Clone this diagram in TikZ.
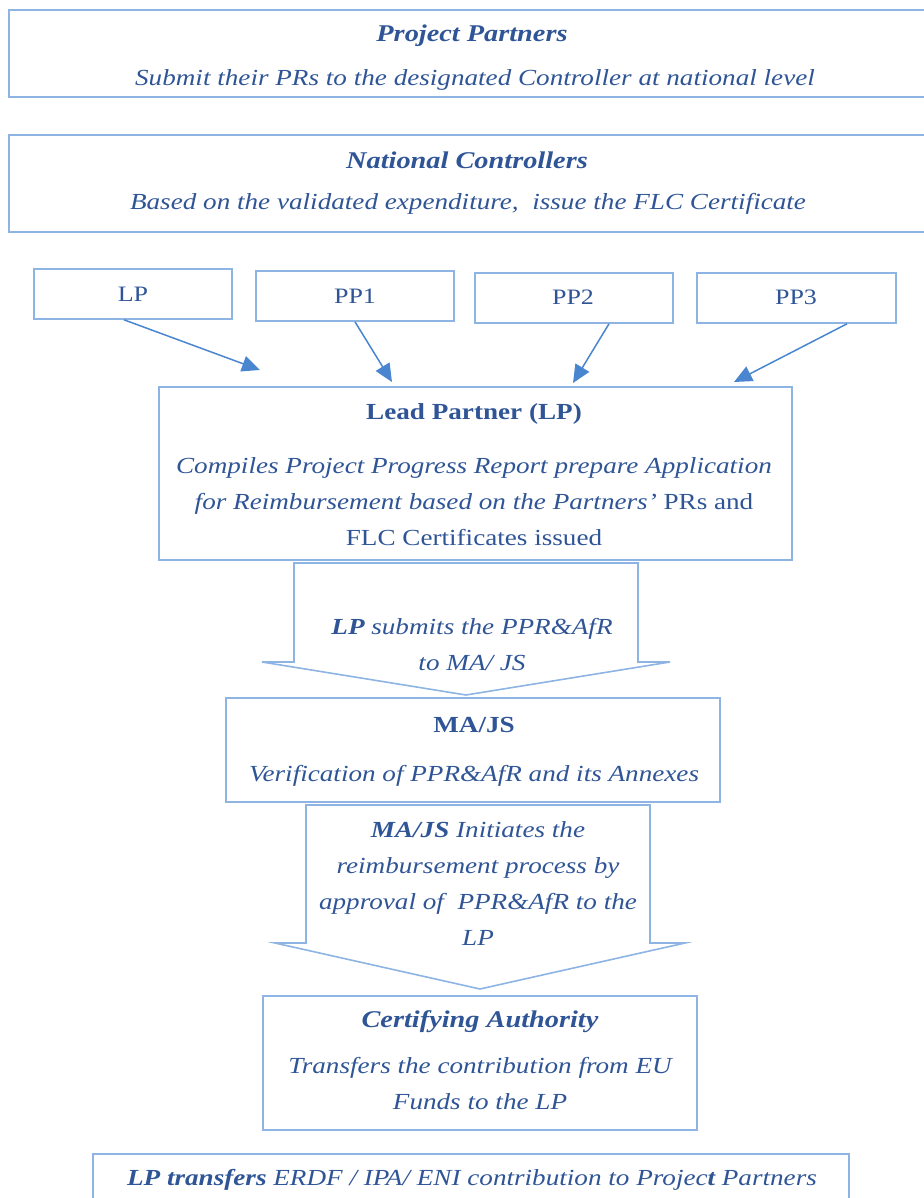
\documentclass[tikz,border=0pt]{standalone}
\usepackage{fontspec}
\setmainfont{Liberation Serif}[FakeStretch=1.18]
\usetikzlibrary{arrows.meta}
\definecolor{txt}{HTML}{2F5597}
\definecolor{bord}{HTML}{8EB4E3}
\definecolor{arr}{HTML}{4A86D0}
\tikzset{
  box/.style={draw=bord, line width=1.6pt, inner sep=0pt, fill=white},
  lbl/.style={text=txt, inner sep=0pt, align=center, font=\fontsize{23}{36}\selectfont},
  conn/.style={draw=arr, line width=1.5pt, -{Triangle[length=18pt,width=16pt]}},
  blk/.style={draw=bord, line width=1.6pt, fill=white, line join=miter}
}
\begin{document}
\begin{tikzpicture}[x=1pt,y=-1pt]
\useasboundingbox (0,0) rectangle (923,1198);
% boxes
\node[box, minimum width=931pt, minimum height=87pt] (pp) at (474.5,53.5) {};
\node[box, minimum width=931pt, minimum height=97pt] (nc) at (474.5,183.5) {};
\node[box, minimum width=198pt, minimum height=50pt] (lpb) at (133,294) {};
\node[box, minimum width=198pt, minimum height=50pt] (pp1b) at (355,296) {};
\node[box, minimum width=198pt, minimum height=50pt] (pp2b) at (574,298) {};
\node[box, minimum width=199pt, minimum height=50pt] (pp3b) at (796.5,298) {};
\node[box, minimum width=633pt, minimum height=173pt] (lead) at (475.5,473.5) {};
\node[box, minimum width=494pt, minimum height=104pt] (maj) at (473,750) {};
\node[box, minimum width=434pt, minimum height=134pt] (ca) at (480,1063) {};
\node[box, minimum width=756pt, minimum height=56pt] (bot) at (471,1182) {};
% block arrows
\draw[blk] (294,563) -- (294,662) -- (262,662) -- (466,695) -- (670,662) -- (638,662) -- (638,563) -- cycle;
\draw[blk] (306,805) -- (306,943) -- (275,943) -- (480,989) -- (685,943) -- (650,943) -- (650,805) -- cycle;
% arrow ends
\coordinate (e1) at (260,370);
\coordinate (e2) at (392,382);
\coordinate (e3) at (573,383);
\coordinate (e4) at (734,382);
\draw[conn] ([xshift=-9pt]lpb.south) -- (e1);
\draw[conn] (pp1b.south) -- (e2);
\draw[conn] ([xshift=35pt]pp2b.south) -- (e3);
\draw[conn] ([xshift=50.5pt]pp3b.south) -- (e4);
% texts
\node[lbl, font=\fontsize{24}{36}\selectfont\bfseries\itshape] (t1) at (472,36) {Project Partners};
\node[lbl, font=\fontsize{23}{36}\selectfont\itshape] (t2) at (475,80) {Submit their PRs to the designated Controller at national level};
\node[lbl, font=\fontsize{24}{36}\selectfont\bfseries\itshape] (t3) at (467,160) {National Controllers};
\node[lbl, font=\fontsize{23}{36}\selectfont\itshape] (t4) at (468,204) {Based on the validated expenditure,\ \ issue the FLC Certificate};
\node[lbl, font=\fontsize{22}{36}\selectfont] (t5) at (133,294) {LP};
\node[lbl, font=\fontsize{22}{36}\selectfont] (t6) at (355,296) {PP1};
\node[lbl, font=\fontsize{22}{36}\selectfont] (t7) at (573,297) {PP2};
\node[lbl, font=\fontsize{22}{36}\selectfont] (t8) at (796,297) {PP3};
\node[lbl, font=\fontsize{23}{36}\selectfont\bfseries] (t9) at (474,414) {Lead Partner (LP)};
\node[lbl] (t10) at (474,502) {\itshape Compiles Project Progress Report prepare Application\\ {\itshape for Reimbursement based on the Partners’} PRs and\\ FLC Certificates issued};
\node[lbl] (t11) at (472,645) {{\bfseries\itshape LP} \itshape submits the PPR\&AfR\\ \itshape to MA/ JS};
\node[lbl, font=\fontsize{23}{36}\selectfont\bfseries] (t12) at (474,725) {MA/JS};
\node[lbl, font=\fontsize{23}{36}\selectfont\itshape] (t13) at (474,776) {Verification of PPR\&AfR and its Annexes};
\node[lbl, font=\fontsize{23}{36}\selectfont\itshape] (t14) at (478,884) {{\bfseries MA/JS} Initiates the\\ reimbursement process by\\ approval of\ \ PPR\&AfR to the\\ LP};
\node[lbl, font=\fontsize{24}{36}\selectfont\bfseries\itshape] (t15) at (480,1022) {Certifying Authority};
\node[lbl, font=\fontsize{23}{36}\selectfont\itshape] (t16) at (480,1084) {Transfers the contribution from EU\\ Funds to the LP};
\node[lbl, font=\fontsize{23}{36}\selectfont\itshape] (t17) at (472,1180) {{\bfseries LP transfers} ERDF / IPA/ ENI contribution to Projec{\bfseries t} Partners};
\end{tikzpicture}
\end{document}
